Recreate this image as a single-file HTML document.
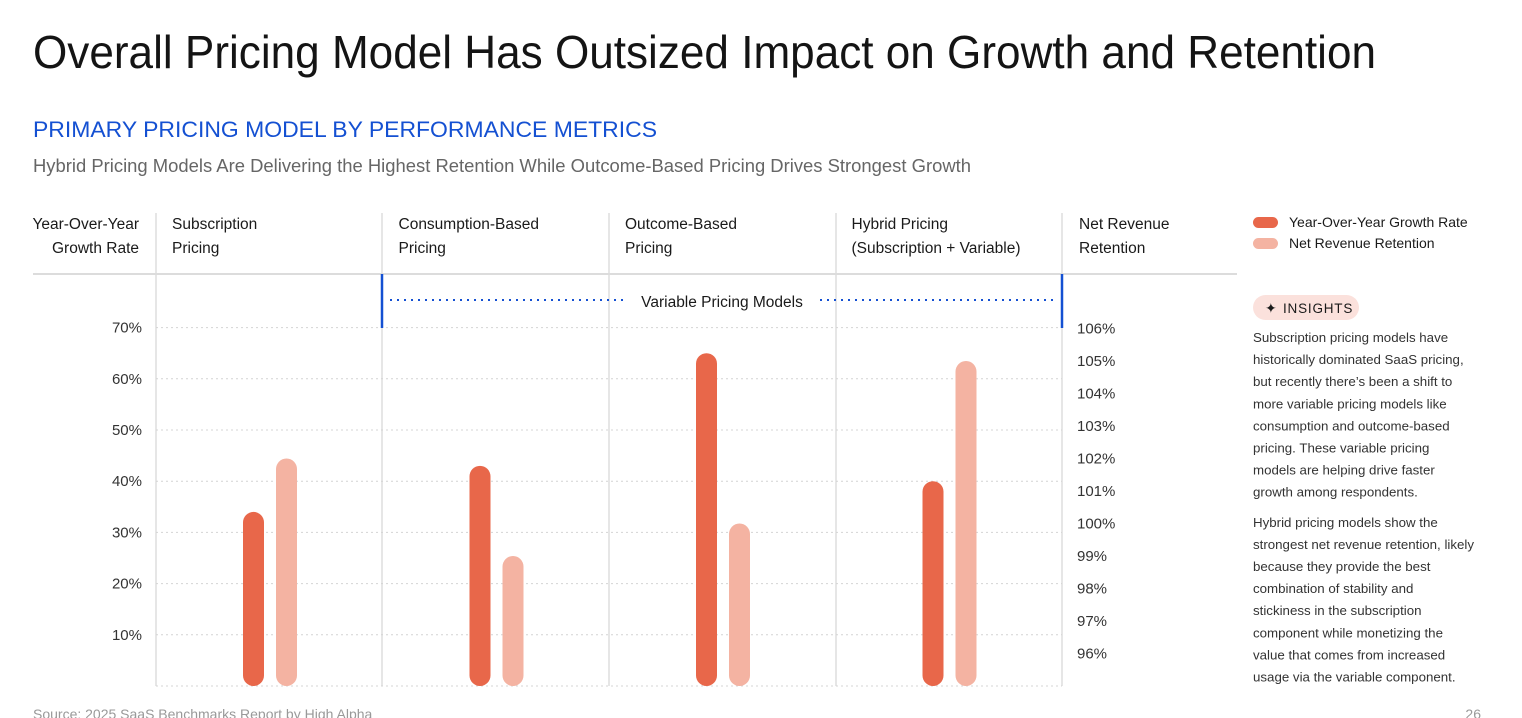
<!DOCTYPE html>
<html><head><meta charset="utf-8"><style>
html,body{margin:0;padding:0;background:#fff;}
svg{display:block;font-family:"Liberation Sans",sans-serif;}
</style></head><body>
<svg id="c" width="1522" height="718" viewBox="0 0 1522 718">
<text x="33" y="68" font-size="46" fill="#141414" textLength="1343" lengthAdjust="spacingAndGlyphs">Overall Pricing Model Has Outsized Impact on Growth and Retention</text>
<text x="33" y="137" font-size="22" fill="#1450d2" textLength="624" lengthAdjust="spacingAndGlyphs">PRIMARY PRICING MODEL BY PERFORMANCE METRICS</text>
<text x="33" y="172" font-size="18.5" fill="#666" textLength="938" lengthAdjust="spacingAndGlyphs">Hybrid Pricing Models Are Delivering the Highest Retention While Outcome-Based Pricing Drives Strongest Growth</text>
<g id="grid"></g>
<g id="hdr" font-size="15.5" fill="#1a1a1a"></g>
<line x1="33" y1="274" x2="1237" y2="274" stroke="#dcdcdc" stroke-width="2"/>
<line x1="382" y1="274" x2="382" y2="328" stroke="#1450d2" stroke-width="2.5"/>
<line x1="1062" y1="274" x2="1062" y2="328" stroke="#1450d2" stroke-width="2.5"/>
<line x1="390" y1="300" x2="628" y2="300" stroke="#1450d2" stroke-width="2" stroke-dasharray="2 5"/>
<line x1="820" y1="300" x2="1056" y2="300" stroke="#1450d2" stroke-width="2" stroke-dasharray="2 5"/>
<text x="722" y="307" font-size="15.5" fill="#1a1a1a" text-anchor="middle">Variable Pricing Models</text>
<g id="bars"></g>
<g>
<rect x="1253" y="217" width="25" height="11" rx="5.5" fill="#e8674a"/>
<text x="1289" y="227" font-size="14" fill="#1a1a1a">Year-Over-Year Growth Rate</text>
<rect x="1253" y="238" width="25" height="11" rx="5.5" fill="#f4b3a2"/>
<text x="1289" y="248" font-size="14" fill="#1a1a1a">Net Revenue Retention</text>
</g>
<rect x="1253" y="295" width="106" height="25" rx="12.5" fill="#fbe1dc"/>
<text x="1265" y="313" font-size="14" fill="#1a1a1a">✦</text>
<text x="1283" y="313" font-size="13.5" fill="#1a1a1a" letter-spacing="0.8">INSIGHTS</text>
<g id="ins" font-size="13.3" fill="#333"></g>
<text x="33" y="719" font-size="14" fill="#999">Source: 2025 SaaS Benchmarks Report by High Alpha</text>
<text x="1481" y="719" font-size="14" fill="#999" text-anchor="end">26</text>
</svg>
<script>
const categories=["Subscription Pricing","Consumption-Based Pricing","Outcome-Based Pricing","Hybrid Pricing (Subscription + Variable)"];
const growthValues=[34,43,65,40];
const nrrValues=[102,99,100,105];
const leftTicks=[10,20,30,40,50,60,70];
const rightTicks=[96,97,98,99,100,101,102,103,104,105,106];
const NS="http://www.w3.org/2000/svg";
function mk(p,t,a){const e=document.createElementNS(NS,t);for(const k in a)e.setAttribute(k,a[k]);p.appendChild(e);return e;}
const yL=v=>686-v*5.12;
const yR=v=>686-(v-95)*32.5;
const colX=i=>156+i*226.5;
const grid=document.getElementById('grid');
[156,382,609,836,1062].forEach(x=>{const l=mk(grid,'line',{x1:x,y1:213,x2:x,y2:686,stroke:'#dedede','stroke-width':1.5});

});
leftTicks.forEach(v=>{const l=mk(grid,'line',{x1:156,y1:yL(v),x2:1062,y2:yL(v),stroke:'#d4d4d4','stroke-width':1,'stroke-dasharray':'2 3'});


const t=mk(grid,'text',{x:142,y:yL(v)+5,'font-size':15,fill:'#333','text-anchor':'end'});t.textContent=v+'%';

});
const b=mk(grid,'line',{x1:156,y1:686,x2:1062,y2:686,stroke:'#d4d4d4','stroke-width':1,'stroke-dasharray':'2 3'});


rightTicks.forEach(v=>{const t=mk(grid,'text',{x:1077,y:yR(v)+5,'font-size':15,fill:'#333'});t.textContent=v+'%';

});
const hdr=document.getElementById('hdr');
function two(x,a,l1,l2,name){[l1,l2].forEach((s,j)=>{const t=mk(hdr,'text',{x:x,y:229+j*24,'text-anchor':a});t.textContent=s;

});}
two(139,'end','Year-Over-Year','Growth Rate','left-axis-title');
two(1079,'start','Net Revenue','Retention','right-axis-title');
const hl=[["Subscription","Pricing"],["Consumption-Based","Pricing"],["Outcome-Based","Pricing"],["Hybrid Pricing","(Subscription + Variable)"]];
categories.forEach((c,i)=>two(colX(i)+16,'start',hl[i][0],hl[i][1],'category-header'));
const bars=document.getElementById('bars');
categories.forEach((c,i)=>{
 const x=colX(i);
 const g1=yL(growthValues[i]);
 const r1=mk(bars,'rect',{x:x+87,y:g1,width:21,height:686-g1,rx:10.5,fill:'#e8674a'});
 
 
 const g2=yR(nrrValues[i]);
 const r2=mk(bars,'rect',{x:x+120,y:g2,width:21,height:686-g2,rx:10.5,fill:'#f4b3a2'});
 
 
});
const ins=document.getElementById('ins');
const lines=["Subscription pricing models have","historically dominated SaaS pricing,","but recently there’s been a shift to","more variable pricing models like","consumption and outcome-based","pricing. These variable pricing","models are helping drive faster","growth among respondents.",null,"Hybrid pricing models show the","strongest net revenue retention, likely","because they provide the best","combination of stability and","stickiness in the subscription","component while monetizing the","value that comes from increased","usage via the variable component."];
let y=342;
lines.forEach(s=>{if(s===null){y+=8;return;}const t=mk(ins,'text',{x:1253,y:y});t.textContent=s;

y+=22.1;});
</script>
</body></html>
